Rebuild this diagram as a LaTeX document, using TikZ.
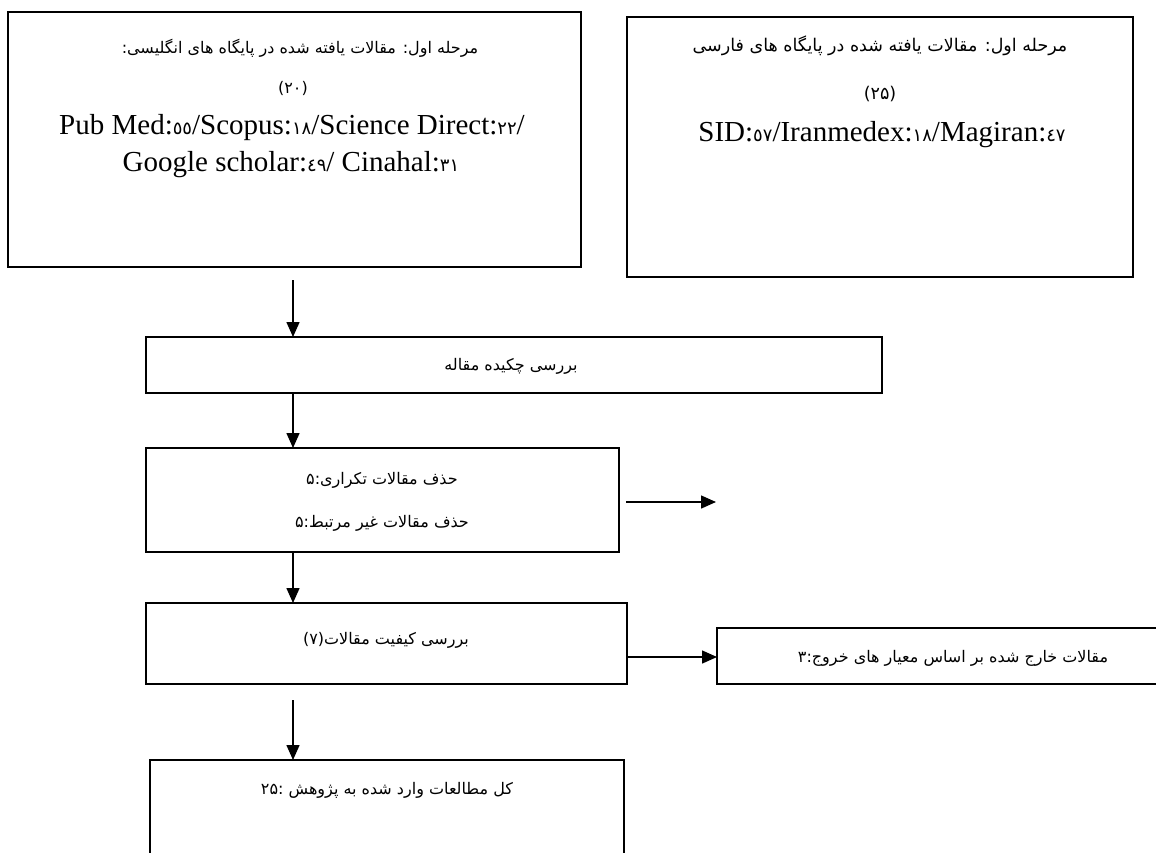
\documentclass[tikz,border=0pt]{standalone}
\usepackage{fontspec}
\setmainfont{Liberation Serif}
\newfontfamily\farsi[Script=Arabic]{DejaVu Sans}
\TeXXeTstate=1
\usetikzlibrary{arrows.meta}
\newcommand\fatext[1]{{\farsi\beginR #1\endR}}
\newcommand\fanum[1]{{\farsi\fontsize{18}{18}\selectfont #1}}

\begin{document}
\begin{tikzpicture}[x=1pt,y=-1pt,
  box/.style={draw,line width=1.6pt,anchor=north west,inner sep=0pt,outer sep=0pt},
  fa/.style={font=\farsi\fontsize{16}{16}\selectfont,inner sep=0pt},
  fabig/.style={font=\farsi\fontsize{17.5}{17.5}\selectfont,inner sep=0pt},
  en/.style={font=\fontsize{29}{29}\selectfont,inner sep=0pt},
  arr/.style={line width=1.5pt,-{Triangle[length=15pt,width=13pt]}}]
\clip (0,0) rectangle (1156,852);

% boxes
\node[box,minimum width=573pt,minimum height=255pt] (b1) at (8,12) {};
\node[box,minimum width=506pt,minimum height=260pt] (b2) at (627,17) {};
\node[box,minimum width=736pt,minimum height=56pt] (b3) at (146,337) {};
\node[box,minimum width=473pt,minimum height=104pt] (b4) at (146,448) {};
\node[box,minimum width=481pt,minimum height=81pt] (b5) at (146,603) {};
\node[box,minimum width=460pt,minimum height=56pt] (b6) at (717,628) {};
\node[box,minimum width=474pt,minimum height=120pt] (b7) at (150,760) {};

% english databases
\node[fa] (t1a) at (300,48) {\fatext{مرحله اول: مقالات یافته شده در پایگاه های انگلیسی:}};
\node[fa] (t1b) at (293,88) {(۲۰)};
\node[en] (t1c) at (292,128) {Pub Med:\fanum{٥٥}/Scopus:\fanum{١٨}/Science Direct:\fanum{٢٢}/};
\node[en] (t1d) at (291,165) {Google scholar:\fanum{٤٩}/ Cinahal:\fanum{٣١}};

% persian databases
\node[fabig] (t2a) at (880,46) {\fatext{مرحله اول: مقالات یافته شده در پایگاه های فارسی}};
\node[fabig] (t2b) at (880,94) {(۲۵)};
\node[en] (t2c) at (882,135) {SID:\fanum{٥٧}/Iranmedex:\fanum{١٨}/Magiran:\fanum{٤٧}};

\node[fa] (t3) at (511,366) {\fatext{بررسی چکیده مقاله}};
\node[fa] (t4a) at (382,480) {\fatext{حذف مقالات تکراری:۵}};
\node[fa] (t4b) at (382,523) {\fatext{حذف مقالات غیر مرتبط:۵}};
\node[fa] (t5) at (386,640) {\fatext{بررسی کیفیت مقالات(۷)}};
\node[fa] (t6) at (953,658) {\fatext{مقالات خارج شده بر اساس معیار های خروج:۳}};
\node[fa] (t7) at (387,790) {\fatext{کل مطالعات وارد شده به پژوهش :\beginL۲۵\endL}};

% arrows
\coordinate (ax) at (293,0);
\coordinate (e1) at (716,502);
\coordinate (e2) at (0,657);
\draw[arr] ([yshift=-13pt]b1.south -| ax) -- (b3.north -| ax);
\draw[arr] (b3.south -| ax) -- (b4.north -| ax);
\draw[arr] (b4.south -| ax) -- (b5.north -| ax);
\draw[arr] ([yshift=-16pt]b5.south -| ax) -- (b7.north -| ax);
\draw[arr] ([xshift=7pt]b4.east |- e1) -- (e1);
\draw[arr] (b5.east |- e2) -- (b6.west |- e2);
\end{tikzpicture}
\end{document}
